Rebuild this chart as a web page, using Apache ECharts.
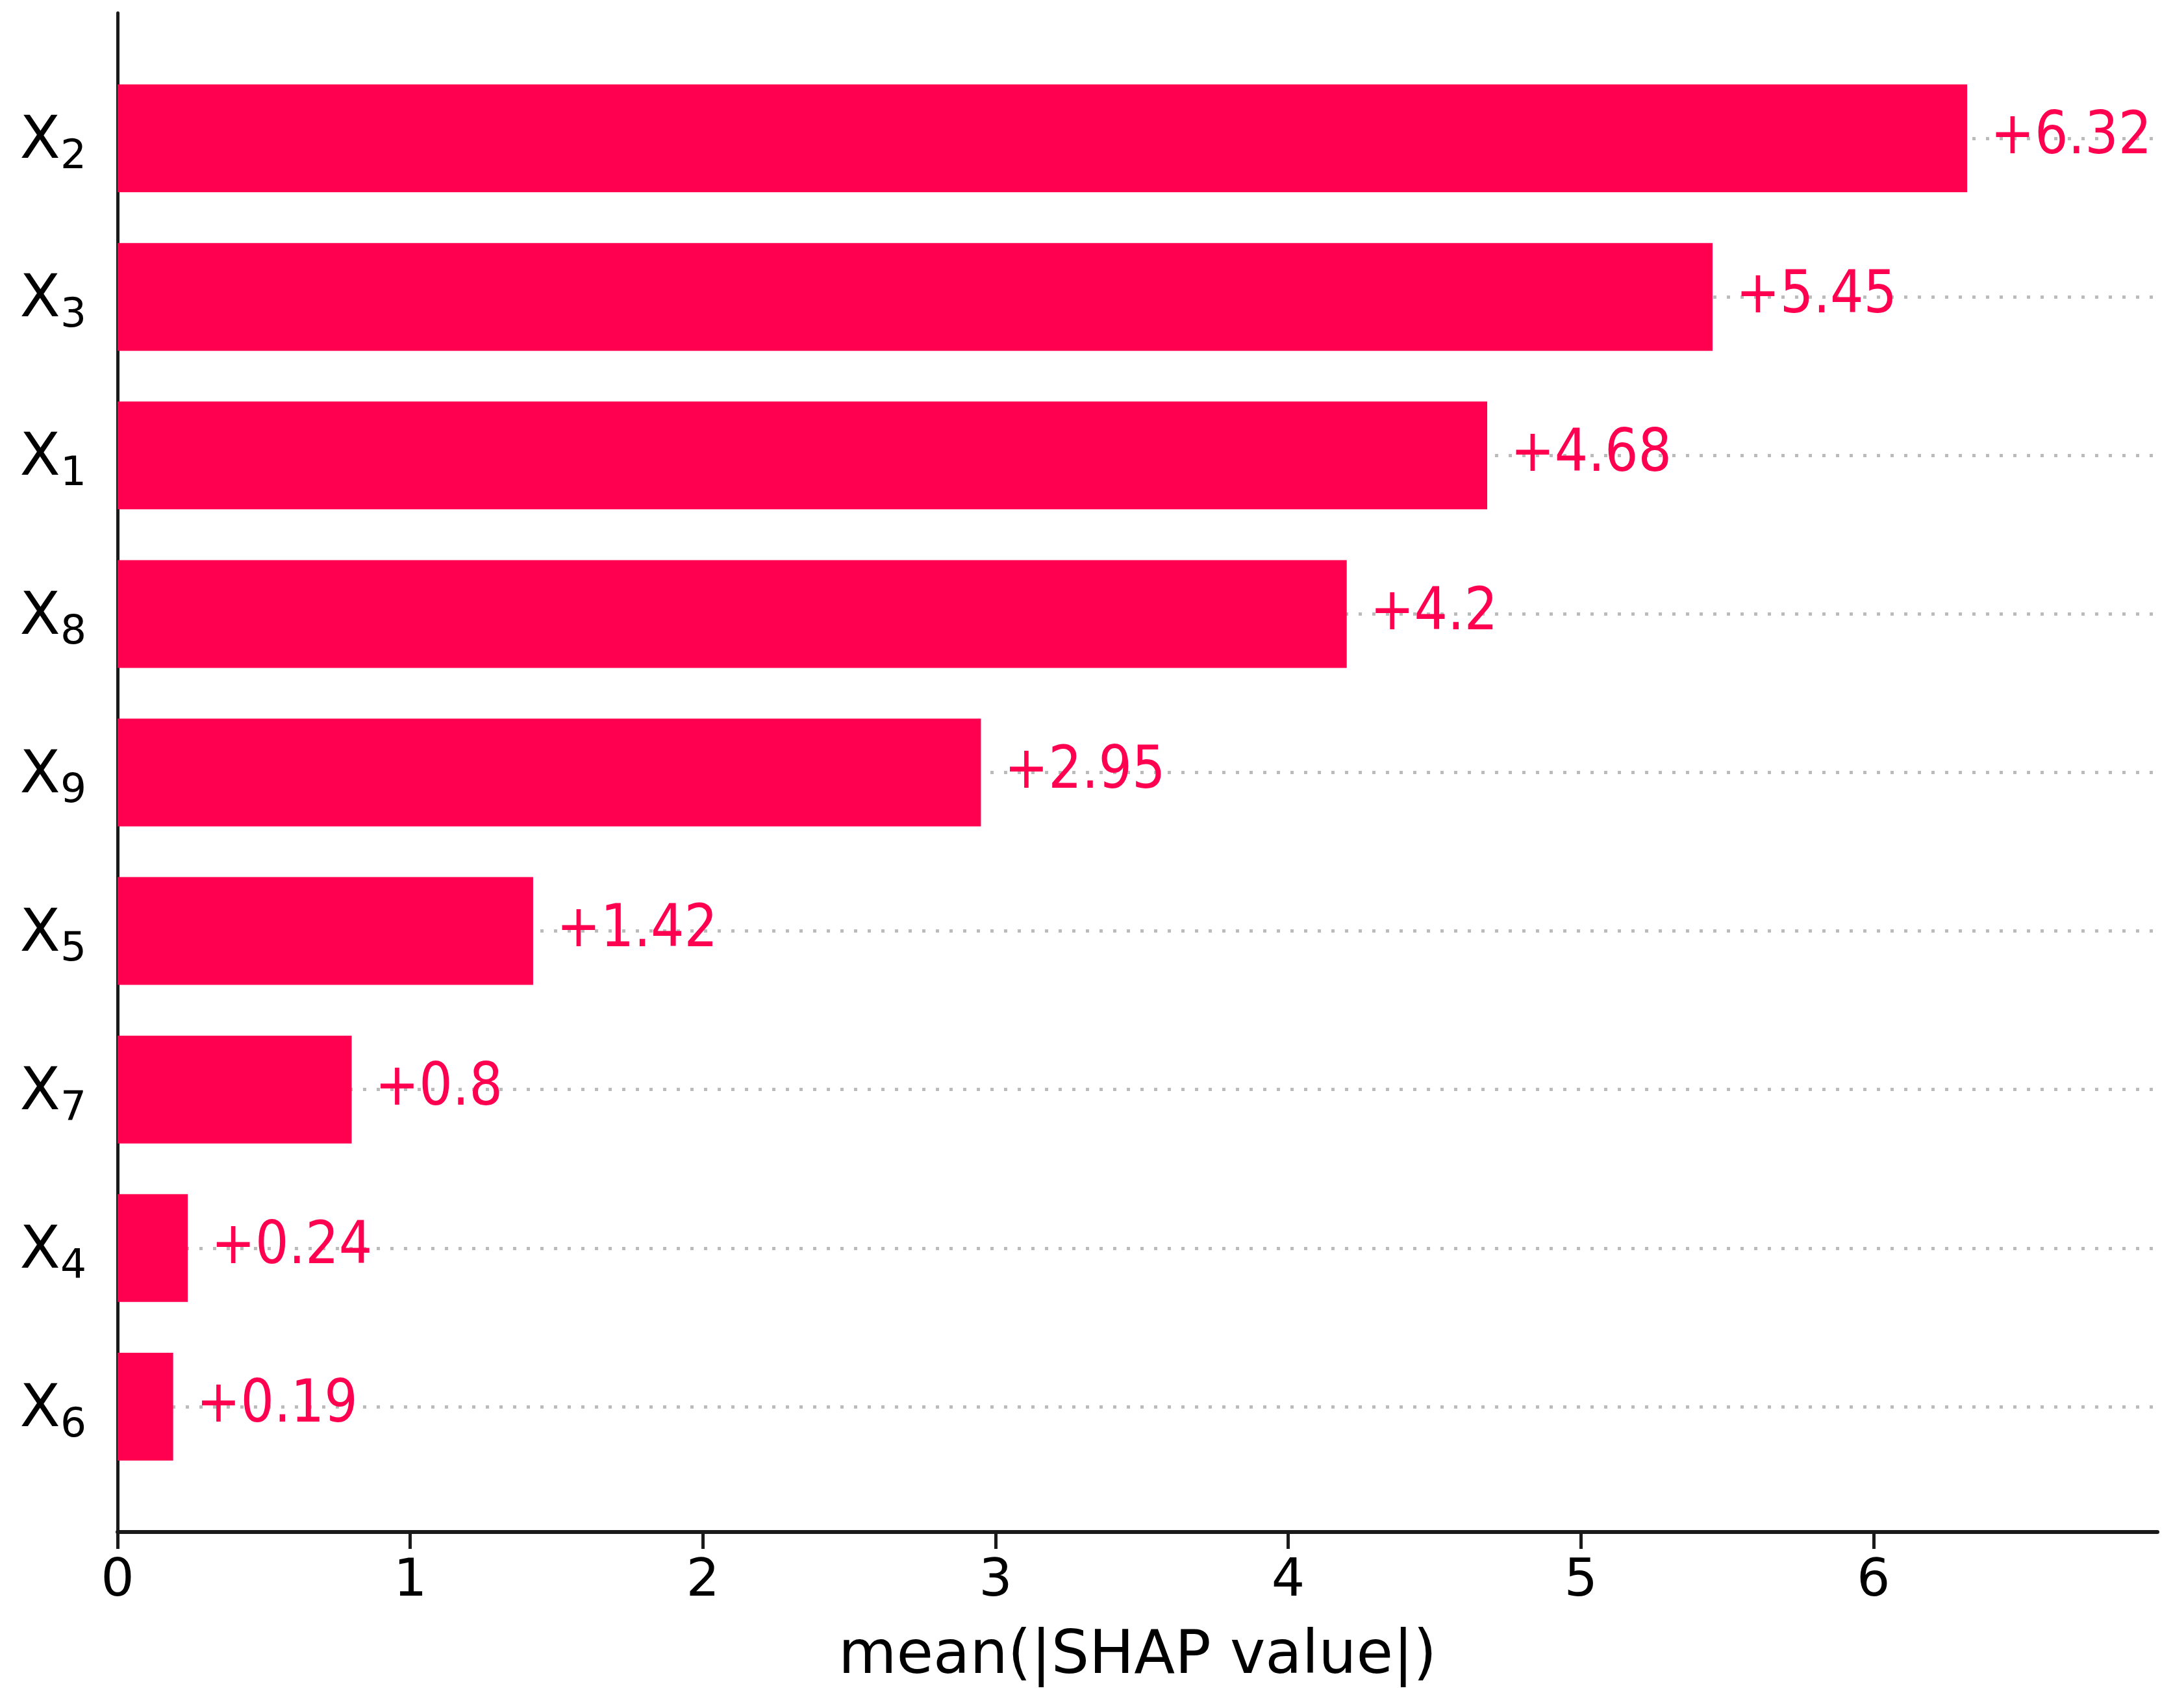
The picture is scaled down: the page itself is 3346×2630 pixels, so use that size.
<!DOCTYPE html>
<html>
<head>
<meta charset="utf-8">
<script src="https://cdn.jsdelivr.net/npm/echarts@6/dist/echarts.min.js"></script>
<style>
  html, body { margin: 0; padding: 0; background: #ffffff; }
  #chart { width: 3346px; height: 2630px; }
</style>
</head>
<body>
<div id="chart"></div>
<script>
// ---- data ----
const features = ['X2', 'X3', 'X1', 'X8', 'X9', 'X5', 'X7', 'X4', 'X6'];
const meanAbsShap = [6.32, 5.45, 4.68, 4.2, 2.95, 1.42, 0.8, 0.24, 0.19];
const xTicks = [0, 1, 2, 3, 4, 5, 6];
const xMax = 6.97;
const xTitle = 'mean(|SHAP value|)';

const barColor = '#ff0051';
const font = 'DejaVu Sans';
const condFont = '"DejaVu Sans Condensed", "DejaVu Sans"';

const chart = echarts.init(document.getElementById('chart'), null, { renderer: 'canvas' });

const option = {
  backgroundColor: '#ffffff',
  animation: false,
  grid: [
    { left: 181, right: 24, top: 20, bottom: 271 },   // frame (axis lines)
    { left: 181, right: 24, top: 91, bottom: 342 }    // bars
  ],
  xAxis: [
    {
      gridIndex: 0,
      type: 'value',
      min: 0,
      max: xMax,
      interval: 1,
      axisLine: { show: true, onZero: false, lineStyle: { color: '#1a1a1a', width: 6 } },
      axisTick: { show: true, length: 26, customValues: xTicks, lineStyle: { color: '#1a1a1a', width: 5 } },
      axisLabel: {
        show: true, customValues: xTicks, margin: 36,
        fontFamily: font, fontSize: 81, color: '#000000'
      },
      splitLine: { show: false },
      name: xTitle,
      nameLocation: 'middle',
      nameGap: 147,
      nameTextStyle: { fontFamily: font, fontSize: 92, color: '#000000' }
    },
    {
      gridIndex: 1,
      type: 'value',
      min: 0,
      max: xMax,
      show: false
    }
  ],
  yAxis: [
    {
      gridIndex: 0,
      type: 'value',
      min: 0,
      max: 1,
      axisLine: { show: true, onZero: false, lineStyle: { color: '#1a1a1a', width: 5 } },
      axisTick: { show: false },
      axisLabel: { show: false },
      splitLine: { show: false }
    },
    {
      gridIndex: 1,
      type: 'category',
      inverse: true,
      data: features,
      axisLine: { show: false },
      axisTick: { show: false },
      splitLine: { show: false },
      axisLabel: {
        margin: 48,
        padding: [22, 0, 0, 0],
        formatter: function (v) {
          return '{x|' + v.charAt(0) + '}{s|' + v.slice(1) + '}';
        },
        rich: {
          x: { fontFamily: font, fontSize: 91, color: '#000000', lineHeight: 100, verticalAlign: 'top' },
          s: { fontFamily: font, fontSize: 63, color: '#000000', lineHeight: 50, verticalAlign: 'bottom' }
        }
      }
    }
  ],
  series: [
    {
      type: 'bar',
      xAxisIndex: 1,
      yAxisIndex: 1,
      data: meanAbsShap,
      barWidth: '68%',
      z: 2,
      itemStyle: { color: barColor },
      label: {
        show: true,
        position: 'right',
        distance: 36,
        fontFamily: condFont,
        fontSize: 90,
        color: barColor,
        formatter: function (p) { return '+' + p.value; }
      },
      markLine: {
        silent: true,
        z: 1,
        symbol: 'none',
        label: { show: false },
        lineStyle: { color: '#bbbbbb', width: 5, type: [5, 16] },
        data: features.map(function (f) { return { yAxis: f }; })
      }
    }
  ]
};

chart.setOption(option);
</script>
</body>
</html>
